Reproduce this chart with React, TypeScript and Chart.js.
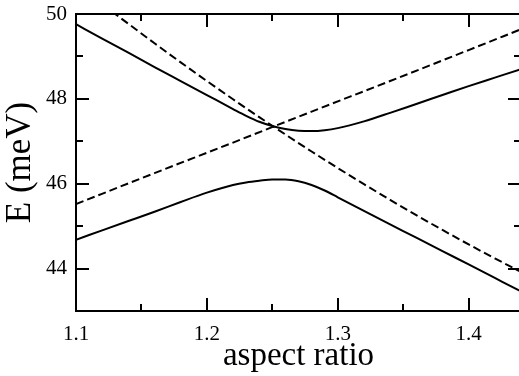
import { useEffect, useRef } from "react";
import { Chart, registerables } from "chart.js";

Chart.register(...registerables);

// Axis ranges and tick positions
const xMin = 1.1;
const xMax = 1.44;
const yMin = 43;
const yMax = 50;
const xTicks = [1.1, 1.2, 1.3, 1.4];
const xMinorTicks = [1.15, 1.25, 1.35];
const yTicks = [44, 46, 48, 50];
const yMinorTicks = [45, 47, 49];

// Aspect ratio samples for the coupled levels (denser near the anticrossing)
const aspect = [
  1.1, 1.12, 1.14, 1.16, 1.18, 1.2, 1.22, 1.23, 1.24, 1.25, 1.26, 1.27, 1.28,
  1.29, 1.3, 1.32, 1.34, 1.36, 1.38, 1.4, 1.42, 1.44,
];
const upperLevel = [
  49.76, 49.42, 49.09, 48.75, 48.42, 48.09, 47.76, 47.6, 47.46, 47.36, 47.29,
  47.25, 47.24, 47.26, 47.31, 47.47, 47.67, 47.88, 48.09, 48.3, 48.5, 48.7,
];
const lowerLevel = [
  44.68, 44.9, 45.12, 45.34, 45.57, 45.79, 45.97, 46.03, 46.07, 46.1, 46.1,
  46.06, 45.97, 45.84, 45.68, 45.36, 45.04, 44.73, 44.41, 44.1, 43.78, 43.46,
];

// Uncoupled levels
const risingX = [1.1, 1.16, 1.22, 1.28, 1.34, 1.4, 1.44];
const risingLevel = [45.52, 46.25, 46.97, 47.7, 48.42, 49.15, 49.64];
const fallingX = [
  1.12, 1.14, 1.16, 1.18, 1.2, 1.22, 1.24, 1.26, 1.28, 1.3, 1.32, 1.34, 1.36,
  1.38, 1.4, 1.42, 1.44,
];
const fallingLevel = [
  50.23, 49.77, 49.31, 48.86, 48.42, 47.99, 47.57, 47.16, 46.76, 46.37, 45.99,
  45.62, 45.26, 44.91, 44.57, 44.24, 43.92,
];

const pts = (xs: number[], ys: number[]) => xs.map((x, i) => ({ x, y: ys[i] }));

const serif = "'Liberation Serif', 'Times New Roman', serif";

// Boxed frame with inward tick marks on all four sides
const framePlugin = {
  id: "frame",
  afterDatasetsDraw(chart: any) {
    const { ctx, chartArea, scales } = chart;
    const { left, right, top, bottom } = chartArea;
    const x = scales.x;
    const y = scales.y;
    ctx.save();
    ctx.strokeStyle = "#000";
    ctx.lineWidth = 2;
    ctx.setLineDash([]);
    ctx.beginPath();
    const major = 13;
    const minor = 7;
    const xMark = (v: number, len: number) => {
      const p = Math.round(x.getPixelForValue(v));
      ctx.moveTo(p, bottom);
      ctx.lineTo(p, bottom - len);
      ctx.moveTo(p, top);
      ctx.lineTo(p, top + len);
    };
    const yMark = (v: number, len: number) => {
      const p = Math.round(y.getPixelForValue(v));
      ctx.moveTo(left, p);
      ctx.lineTo(left + len, p);
      ctx.moveTo(right, p);
      ctx.lineTo(right - len, p);
    };
    xTicks.forEach((v) => xMark(v, major));
    xMinorTicks.forEach((v) => xMark(v, minor));
    yTicks.forEach((v) => yMark(v, major));
    yMinorTicks.forEach((v) => yMark(v, minor));
    ctx.stroke();
    ctx.strokeRect(left, top, right - left, bottom - top);
    ctx.restore();
  },
};

export default function App() {
  const canvasRef = useRef<HTMLCanvasElement | null>(null);

  useEffect(() => {
    const canvas = canvasRef.current;
    if (!canvas) return;
    const line = (data: any[], dashed: boolean) => ({
      data,
      borderColor: "#000",
      borderWidth: 2,
      borderDash: dashed ? [8, 4] : [],
      pointRadius: 0,
      fill: false,
      cubicInterpolationMode: "monotone" as const,
    });
    const chart = new Chart(canvas, {
      type: "line",
      data: {
        datasets: [
          line(pts(aspect, upperLevel), false),
          line(pts(aspect, lowerLevel), false),
          line(pts(risingX, risingLevel), true),
          line(pts(fallingX, fallingLevel), true),
        ],
      },
      options: {
        responsive: false,
        animation: false,
        devicePixelRatio: 1,
        layout: { padding: { top: 14, right: 4, left: 0, bottom: 0 } },
        plugins: { legend: { display: false }, tooltip: { enabled: false } },
        scales: {
          x: {
            type: "linear",
            min: xMin,
            max: xMax,
            grid: { display: false, drawTicks: false },
            border: { display: false },
            afterBuildTicks: (s: any) => {
              s.ticks = xTicks.map((value) => ({ value }));
            },
            afterFit: (s: any) => {
              s.height = 65;
              s.paddingLeft = 0;
              s.paddingRight = 0;
            },
            ticks: {
              color: "#000",
              font: { family: serif, size: 21 },
              padding: 11,
              maxRotation: 0,
              autoSkip: false,
              callback: (v: any) => Number(v).toFixed(1),
            },
            title: {
              display: true,
              text: "aspect ratio",
              color: "#000",
              font: { family: serif, size: 33 },
              padding: { top: 0, bottom: 0 },
            },
          },
          y: {
            type: "linear",
            min: yMin,
            max: yMax,
            grid: { display: false, drawTicks: false },
            border: { display: false },
            afterBuildTicks: (s: any) => {
              s.ticks = yTicks.map((value) => ({ value }));
            },
            afterFit: (s: any) => {
              s.width = 76;
              s.paddingTop = 0;
              s.paddingBottom = 0;
            },
            ticks: {
              color: "#000",
              font: { family: serif, size: 21 },
              padding: 9,
              autoSkip: false,
            },
            title: {
              display: true,
              text: "E (meV)",
              color: "#000",
              font: { family: serif, size: 35 },
              padding: { top: 0, bottom: 0 },
            },
          },
        },
      },
      plugins: [framePlugin],
    });
    return () => chart.destroy();
  }, []);

  return (
    <div
      style={{
        position: "absolute",
        left: 0,
        top: 0,
        width: 519,
        height: 376,
        overflow: "hidden",
        background: "#fff",
      }}
    >
      <canvas ref={canvasRef} width={525} height={376} />
    </div>
  );
}
